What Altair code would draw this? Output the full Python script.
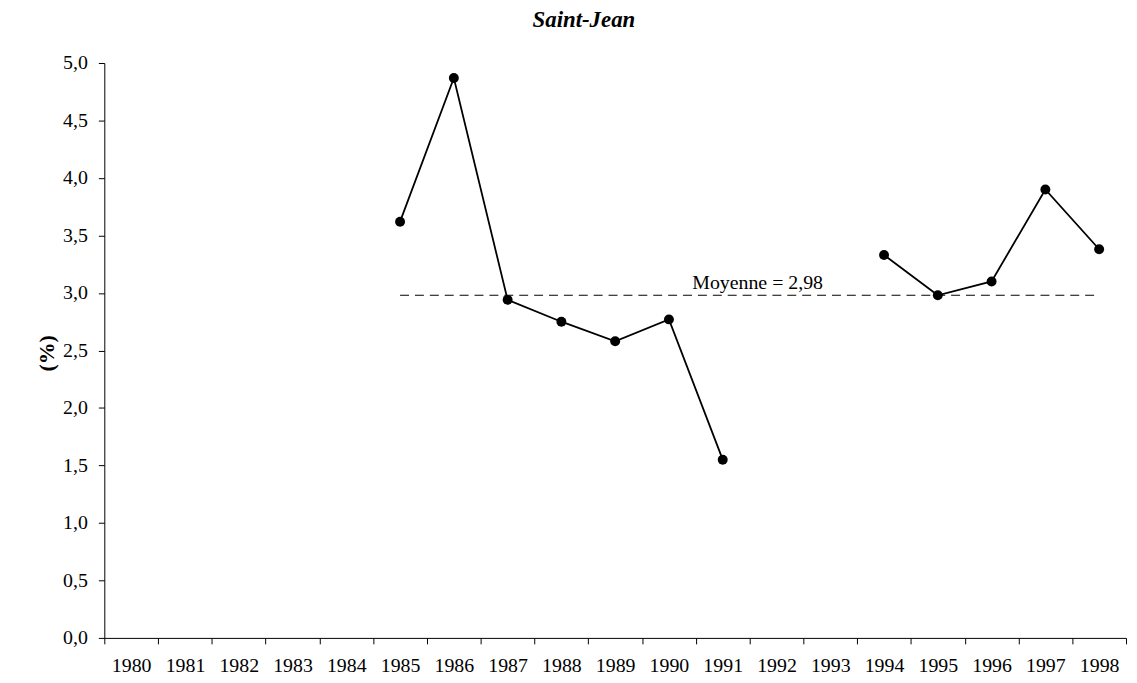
import altair as alt
import pandas as pd

years = [str(y) for y in range(1980, 1999)]
values = [None, None, None, None, None,
          3.62, 4.87, 2.94, 2.75, 2.58, 2.77, 1.55,
          None, None,
          3.33, 2.98, 3.10, 3.90, 3.38]
mean_value = 2.98
mean_years = ["1985", "1998"]
mean_label = "Moyenne = 2,98"
mean_label_year = "1992"
y_ticks = [0, 0.5, 1, 1.5, 2, 2.5, 3, 3.5, 4, 4.5, 5]
chart_title = ["Saint-Jean"]

df = pd.DataFrame({"year": years, "value": values})
mean_df = pd.DataFrame({"year": mean_years, "value": [mean_value] * len(mean_years)})
label_df = pd.DataFrame({"year": [mean_label_year], "value": [mean_value], "label": [mean_label]})
title_df = pd.DataFrame({"title": chart_title})

FONT = "Liberation Serif"

x_scale = alt.Scale(type="band", domain=years, paddingInner=0, paddingOuter=0)
y_scale = alt.Scale(domain=[0, 5], nice=False)

x_axis = alt.Axis(
    title=None, tickBand="extent", tickSize=6, tickColor="black",
    domainColor="black", labelFont=FONT, labelFontSize=20, labelColor="black",
    labelPadding=12, labelAngle=0, grid=False,
)
y_axis = alt.Axis(
    title="(%)", values=y_ticks, tickSize=6, tickColor="black", domainColor="black",
    labelFont=FONT, labelFontSize=20, labelColor="black", labelPadding=11,
    labelExpr="replace(format(datum.value, '.1f'), '.', ',')", grid=False,
    titleFont=FONT, titleFontSize=22, titleFontWeight="bold", titleColor="black",
    titleAngle=270, titleX=-58, titleY=292, titleAlign="center", titleBaseline="middle",
)

x_enc = alt.X("year:O", scale=x_scale, bandPosition=0.5, axis=x_axis)
y_enc = alt.Y("value:Q", scale=y_scale, axis=y_axis)

line = alt.Chart(df).mark_line(
    color="black", strokeWidth=1.8, invalid="break-paths-show-domains"
).encode(x=x_enc, y=y_enc)

points = alt.Chart(df).mark_point(
    filled=True, color="black", size=100, opacity=1
).encode(x=x_enc, y=y_enc)

mean_line = alt.Chart(mean_df).mark_line(
    color="black", strokeWidth=1, strokeDash=[9, 6]
).encode(x=x_enc, y=y_enc)

mean_text = alt.Chart(label_df).mark_text(
    font=FONT, fontSize=20, color="black", align="center", baseline="alphabetic",
    dx=-19, dy=-6
).encode(x=x_enc, y=y_enc, text="label:N")

title_text = alt.Chart(title_df).mark_text(
    font=FONT, fontSize=23, fontStyle="italic", fontWeight="bold", color="black",
    align="center", baseline="alphabetic"
).encode(x=alt.value(483), y=alt.value(-36), text="title:N")

chart = alt.layer(mean_line, line, points, mean_text, title_text).properties(
    width=1029,
    height=579,
    autosize=alt.AutoSizeParams(type="none"),
    padding={"left": 97, "top": 53, "right": 3, "bottom": 40},
    background="white",
).configure_view(stroke=None)

chart.save("out.html", embed_options={"renderer": "svg", "actions": False})
